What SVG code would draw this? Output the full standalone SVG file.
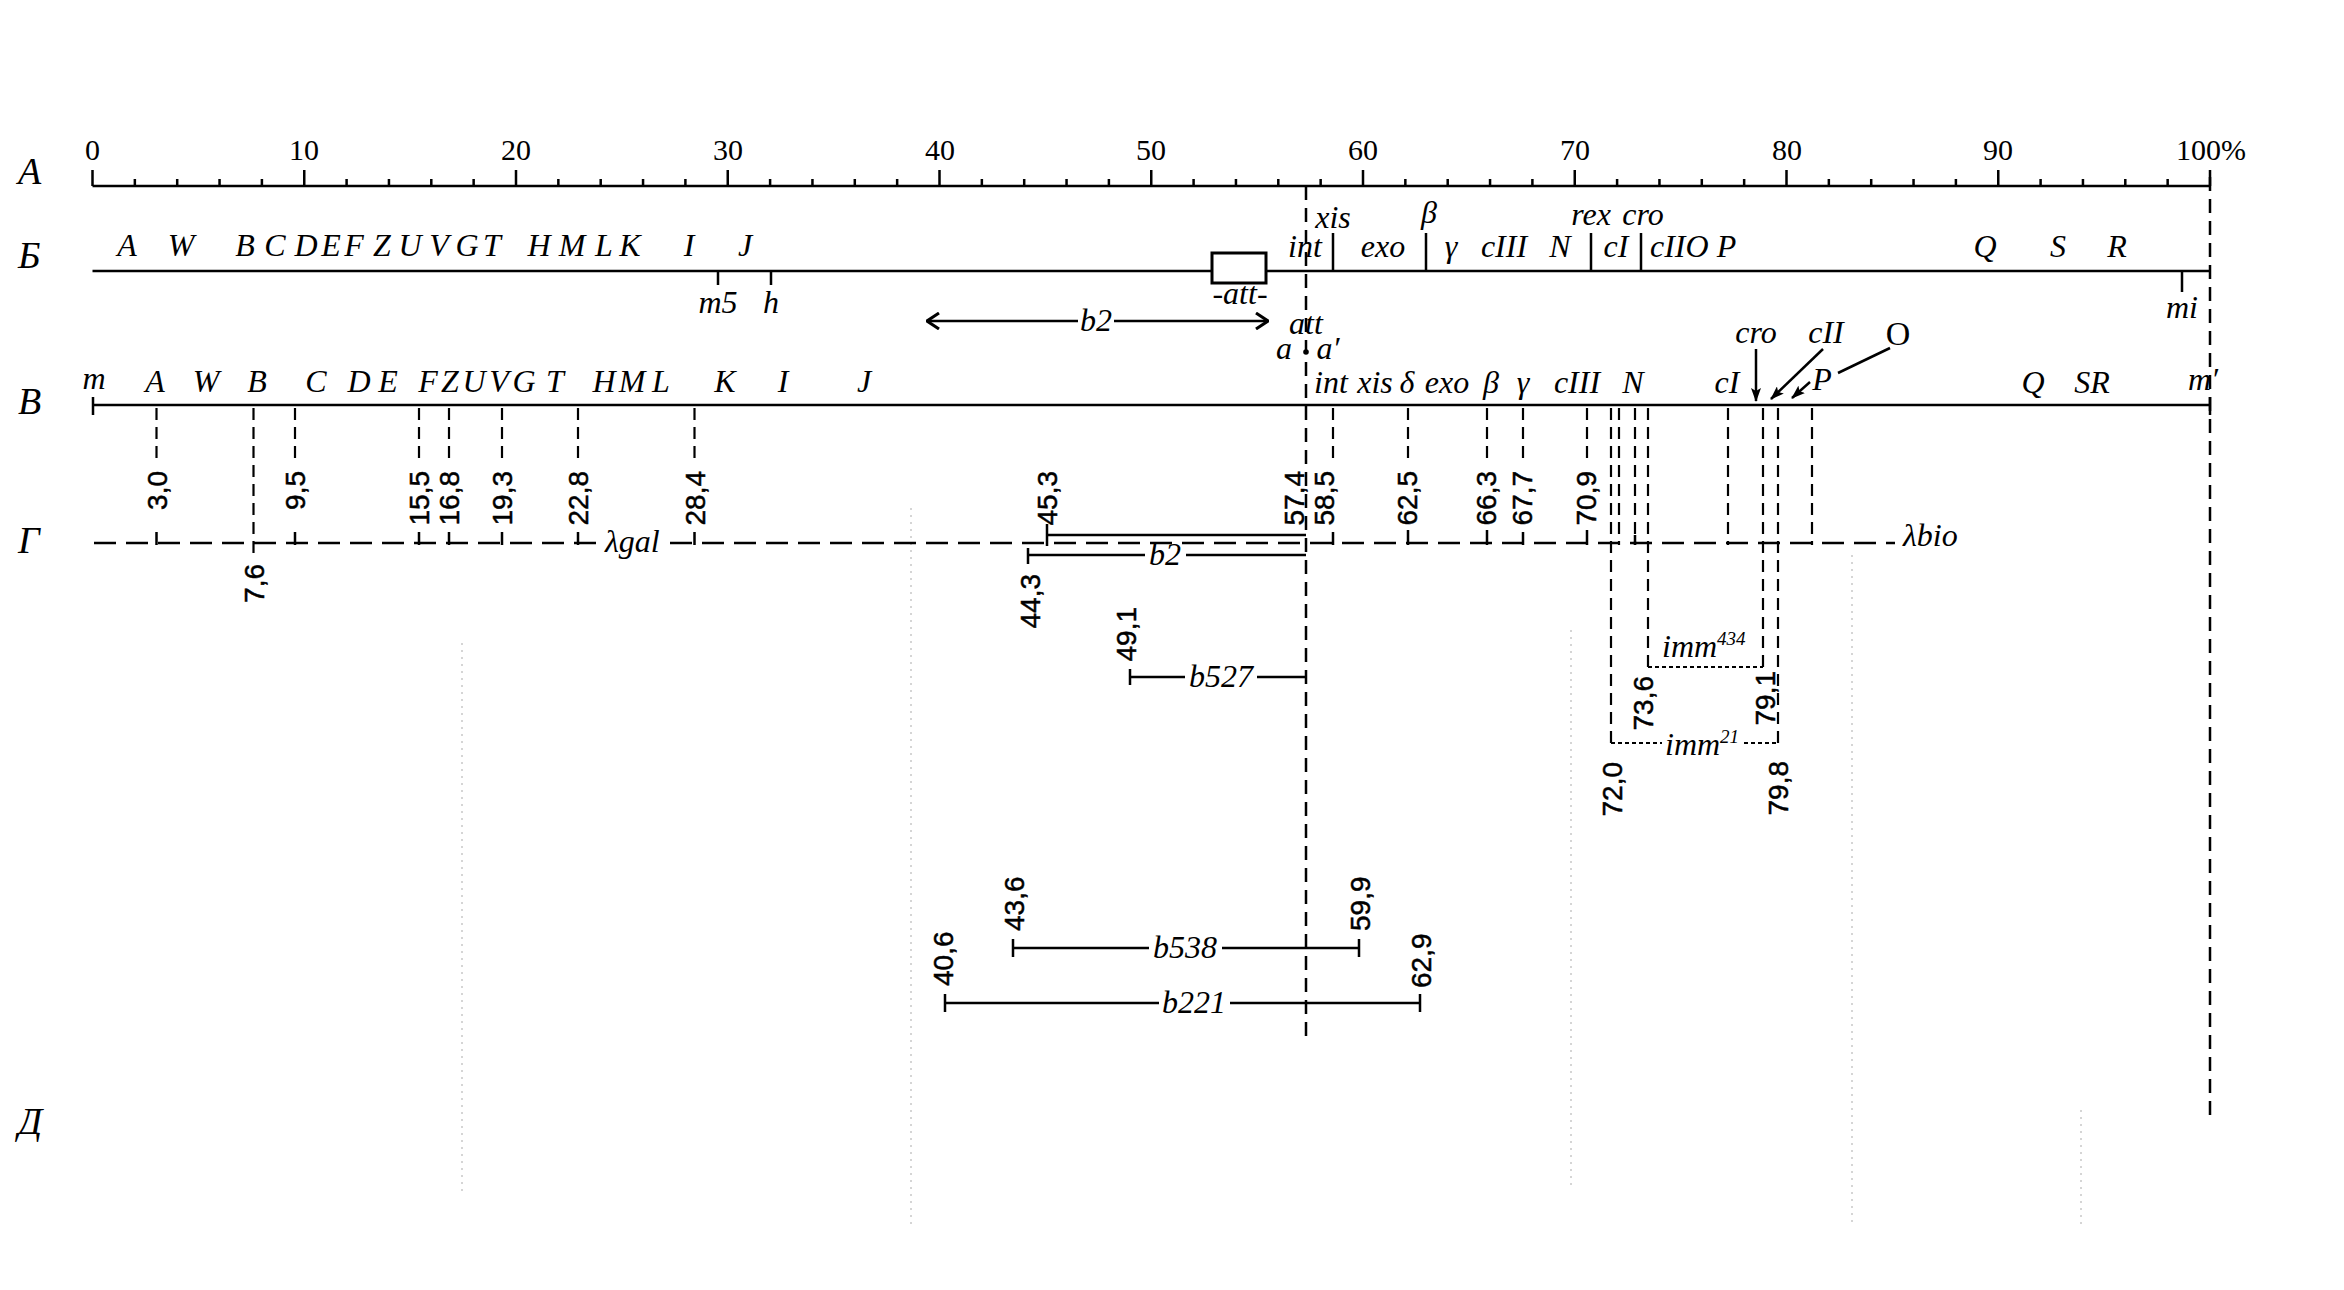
<svg xmlns="http://www.w3.org/2000/svg" width="2344" height="1290" viewBox="0 0 2344 1290">
<defs>
<marker id="fa" viewBox="0 0 14 10" refX="13" refY="5" markerWidth="14" markerHeight="10" markerUnits="userSpaceOnUse" orient="auto"><path d="M0,0 L14,5 L0,10 L3,5 z" fill="#000"/></marker>
<marker id="oa" viewBox="0 0 14 18" refX="13" refY="9" markerWidth="14" markerHeight="18" markerUnits="userSpaceOnUse" orient="auto-start-reverse"><path d="M1,1 L13,9 L1,17" fill="none" stroke="#000" stroke-width="3"/></marker>
</defs>
<style>
.it{font-family:"Liberation Serif",serif;font-style:italic;font-size:32px;fill:#000}
.big{font-size:32px}
.row{font-family:"Liberation Serif",serif;font-style:italic;font-size:38px;fill:#000}
.num{font-family:"Liberation Serif",serif;font-size:30px;fill:#000}
.rl{font-family:"Liberation Sans",sans-serif;font-size:28px;fill:#000;stroke:#000;stroke-width:0.5}
.ln{stroke:#000;fill:none;stroke-width:2.5}
.dv{stroke:#000;stroke-width:2.2;stroke-dasharray:12 7;fill:none}
.dm{stroke:#000;stroke-width:2.5;stroke-dasharray:14 8;fill:none}
.dg{stroke:#000;stroke-width:2.5;stroke-dasharray:22 10;fill:none}
.dot{stroke:#000;stroke-width:1.8;stroke-dasharray:4 3;fill:none}
.faint{stroke:#c8c8c8;stroke-width:1.5;stroke-dasharray:2 5;fill:none}
</style>
<rect width="2344" height="1290" fill="#fff"/>

<g id="row-labels">
<text class="row" x="18" y="184">А</text>
<text class="row" x="18" y="268">Б</text>
<text class="row" x="18" y="414">В</text>
<text class="row" x="18" y="553">Г</text>
<text class="row" x="18" y="1134">Д</text>
</g>

<g id="faint-dividers">
<path class="faint" d="M462,643 V1196 M911,508 V1226 M1571,630 V1190 M1852,555 V1226 M2081,1110 V1226"/>
</g>

<g id="axis-A">
<path class="ln" stroke-width="3" d="M92.5,186 H2210"/>
<path class="ln" stroke-width="2" d="M92.5,186 V170 M304.25,186 V170 M516,186 V170 M727.75,186 V170 M939.5,186 V170 M1151.25,186 V170 M1363,186 V170 M1574.75,186 V170 M1786.5,186 V170 M1998.25,186 V170 M2210,186 V170
M134.85,186 V179 M177.2,186 V179 M219.55,186 V179 M261.9,186 V179 M346.6,186 V179 M388.95,186 V179 M431.3,186 V179 M473.65,186 V179 M558.35,186 V179 M600.7,186 V179 M643.05,186 V179 M685.4,186 V179 M770.1,186 V179 M812.45,186 V179 M854.8,186 V179 M897.15,186 V179 M981.85,186 V179 M1024.2,186 V179 M1066.55,186 V179 M1108.9,186 V179 M1193.6,186 V179 M1235.95,186 V179 M1278.3,186 V179 M1320.65,186 V179 M1405.35,186 V179 M1447.7,186 V179 M1490.05,186 V179 M1532.4,186 V179 M1617.1,186 V179 M1659.45,186 V179 M1701.8,186 V179 M1744.15,186 V179 M1828.85,186 V179 M1871.2,186 V179 M1913.55,186 V179 M1955.9,186 V179 M2040.6,186 V179 M2082.95,186 V179 M2125.3,186 V179 M2167.65,186 V179"/>
<g class="num" text-anchor="middle">
<text x="92.5" y="160">0</text>
<text x="304" y="160">10</text>
<text x="516" y="160">20</text>
<text x="728" y="160">30</text>
<text x="940" y="160">40</text>
<text x="1151" y="160">50</text>
<text x="1363" y="160">60</text>
<text x="1575" y="160">70</text>
<text x="1787" y="160">80</text>
<text x="1998" y="160">90</text>
</g>
<text class="num" x="2176" y="160">100%</text>
</g>

<g id="long-dashes">
<path class="dm" d="M1306,186 V1040"/>
<path class="dm" d="M2210,177 V1123"/>
</g>

<g id="map-B">
<path class="ln" stroke-width="3" d="M92.5,271 H2210"/>
<path class="ln" d="M718,271 V285 M771,271 V285 M2182,271 V292 M1333,233 V271 M1426,233 V271 M1591,233 V271 M1641,233 V271"/>
<g class="it" text-anchor="middle">
<text x="127" y="256">A</text><text x="181" y="256">W</text>
<text x="245" y="256">B</text><text x="275" y="256">C</text><text x="306" y="256">D</text><text x="331" y="256">E</text><text x="354" y="256">F</text><text x="382" y="256">Z</text><text x="410" y="256">U</text><text x="439" y="256">V</text><text x="467" y="256">G</text><text x="492" y="256">T</text>
<text x="539" y="256">H</text><text x="572" y="256">M</text><text x="604" y="256">L</text><text x="630" y="256">K</text>
<text x="689" y="256">I</text><text x="745" y="256">J</text>
<text x="718" y="313">m5</text><text x="771" y="313">h</text>
<text x="1305" y="257">int</text><text x="1333" y="228">xis</text>
<text x="1383" y="257">exo</text><text x="1429" y="223">β</text>
<text x="1451" y="257">γ</text><text x="1504" y="257">cIII</text><text x="1560" y="257">N</text>
<text x="1591" y="225">rex</text><text x="1643" y="225">cro</text>
<text x="1616" y="257">cI</text>
<text x="1985" y="257">Q</text><text x="2058" y="257">S</text><text x="2117" y="257">R</text>
<text x="2182" y="318">mi</text>
</g>
<text class="it" x="1650" y="257">cIIO P</text>
<rect x="1212" y="253" width="54" height="30" fill="#fff" stroke="#000" stroke-width="3"/>
<text class="it" x="1240" y="304" font-size="25" text-anchor="middle">-att-</text>
<text class="it big" x="1096" y="331" text-anchor="middle">b2</text>
<text class="it" x="1306" y="334" font-size="30" text-anchor="middle">att</text>
<text class="it" x="1284" y="359" font-size="30" text-anchor="middle">a</text>
<circle cx="1306" cy="352" r="2.8" fill="#000"/>
<text class="it" x="1328" y="359" font-size="30" text-anchor="middle">a′</text>
</g>

<g id="map-V">
<path class="ln" stroke-width="4" d="M92.5,405 H2210"/>
<path class="ln" stroke-width="3" d="M93,397 V415 M2210,397 V415"/>
<g class="it" text-anchor="middle">
<text x="94" y="389">m</text>
<text x="155" y="392">A</text><text x="206" y="392">W</text><text x="257" y="392">B</text>
<text x="316" y="392">C</text><text x="359" y="392">D</text><text x="388" y="392">E</text>
<text x="428" y="392">F</text><text x="450" y="392">Z</text><text x="474" y="392">U</text><text x="499" y="392">V</text><text x="524" y="392">G</text><text x="555" y="392">T</text>
<text x="604" y="392">H</text><text x="632" y="392">M</text><text x="661" y="392">L</text>
<text x="725" y="392">K</text><text x="783" y="392">I</text><text x="864" y="392">J</text>
<text x="1331" y="393">int</text><text x="1375" y="393">xis</text><text x="1407" y="393">δ</text>
<text x="1447" y="393">exo</text><text x="1491" y="393">β</text><text x="1523" y="393">γ</text>
<text x="1577" y="393">cIII</text><text x="1633" y="393">N</text>
<text x="1727" y="393">cI</text><text x="1822" y="390">P</text>
<text x="2033" y="393">Q</text><text x="2092" y="393">SR</text>
<text x="2203" y="390">m′</text>
<text x="1756" y="343">cro</text><text x="1826" y="343">cII</text>
</g>
<text x="1898" y="345" font-family="Liberation Serif,serif" font-size="34" text-anchor="middle">O</text>
</g>

<g id="map-G">
<path class="dg" d="M94,543 H602 M670,543 H1895"/>
<text class="it big" x="605" y="552">λgal</text>
<text class="it big" x="1903" y="546">λbio</text>
<path class="dv" d="M156.5,408 V465 M295,408 V465 M419,408 V465 M449,408 V465 M502,408 V465 M578,408 V465 M694.5,408 V465 M1333,408 V465 M1408,408 V465 M1487,408 V465 M1523,408 V465 M1587,408 V465 M253.5,408 V556 M1619,408 V545 M1635,408 V545 M1728,408 V545 M1812,408 V545 M1611,408 V743 M1648,408 V667 M1763,408 V667 M1778,408 V743"/>
<path class="ln" d="M156.5,532 V545 M295,532 V545 M419,532 V545 M449,532 V545 M502,532 V545 M578,532 V545 M694.5,532 V545 M1333,532 V545 M1408,530 V545 M1487,530 V545 M1523,532 V545 M1587,530 V545 M1635,535 V545"/>
<g class="rl" text-anchor="end">
<text transform="translate(166.5,471) rotate(-90)">3,0</text>
<text transform="translate(305,471) rotate(-90)">9,5</text>
<text transform="translate(429,471) rotate(-90)">15,5</text>
<text transform="translate(459,471) rotate(-90)">16,8</text>
<text transform="translate(512,471) rotate(-90)">19,3</text>
<text transform="translate(588,471) rotate(-90)">22,8</text>
<text transform="translate(704.5,471) rotate(-90)">28,4</text>
<text transform="translate(1057,471) rotate(-90)">45,3</text>
<text transform="translate(1304,471) rotate(-90)">57,4</text>
<text transform="translate(1334,471) rotate(-90)">58,5</text>
<text transform="translate(1417,471) rotate(-90)">62,5</text>
<text transform="translate(1496,471) rotate(-90)">66,3</text>
<text transform="translate(1532,471) rotate(-90)">67,7</text>
<text transform="translate(1596,471) rotate(-90)">70,9</text>
<text transform="translate(263.5,564) rotate(-90)">7,6</text>
<text transform="translate(1040,574) rotate(-90)">44,3</text>
<text transform="translate(1136,607) rotate(-90)">49,1</text>
<text transform="translate(1653,676) rotate(-90)">73,6</text>
<text transform="translate(1775,671) rotate(-90)">79,1</text>
<text transform="translate(1622,762) rotate(-90)">72,0</text>
<text transform="translate(1788,761) rotate(-90)">79,8</text>
</g>
<g class="rl" text-anchor="start">
<text transform="translate(1024,931) rotate(-90)">43,6</text>
<text transform="translate(1370,931) rotate(-90)">59,9</text>
<text transform="translate(953,986) rotate(-90)">40,6</text>
<text transform="translate(1431,988) rotate(-90)">62,9</text>
</g>
</g>

<g id="deletions">
<path class="ln" d="M1047,535 H1306 M1047,524 V546"/>
<path class="ln" d="M1028,555 H1145 M1186,555 H1306 M1028,548 V564"/>
<text class="it big" x="1165" y="565" text-anchor="middle">b2</text>
<path class="ln" d="M1130,677 H1185 M1257,677 H1306 M1130,669 V685"/>
<text class="it" x="1221" y="687" font-size="30" text-anchor="middle">b527</text>
<path class="ln" d="M1013,948 H1149 M1222,948 H1359 M1013,939 V957 M1359,939 V957"/>
<text class="it" x="1185" y="958" font-size="30" text-anchor="middle">b538</text>
<path class="ln" d="M945,1003 H1159 M1230,1003 H1420 M945,994 V1012 M1420,994 V1012"/>
<text class="it" x="1194" y="1013" font-size="30" text-anchor="middle">b221</text>
<path class="dot" d="M1648,667 H1763"/>
<text class="it" x="1662" y="657" font-size="30">imm<tspan font-size="19" dy="-12">434</tspan></text>
<path class="dot" d="M1611,743 H1662 M1744,743 H1778"/>
<text class="it" x="1665" y="755" font-size="30">imm<tspan font-size="19" dy="-12">21</tspan></text>
</g>

<g id="connectors">
<path class="ln" stroke-width="2.5" d="M927,321 H1078 M1114,321 H1268" marker-start="url(#oa)" marker-end="url(#oa)"/>
<path class="ln" stroke-width="2.5" d="M1756,349 V401" marker-end="url(#fa)"/>
<path class="ln" stroke-width="2.5" d="M1823,349 L1771,399" marker-end="url(#fa)"/>
<path class="ln" stroke-width="2.5" d="M1890,348 L1838,373"/>
<path class="ln" stroke-width="2.5" d="M1810,382 L1792,398" marker-end="url(#fa)"/>
</g>
</svg>
